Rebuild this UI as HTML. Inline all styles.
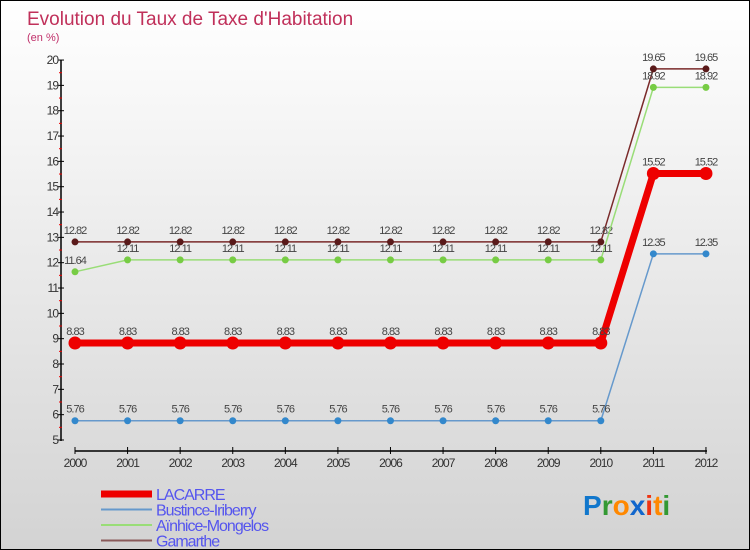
<!DOCTYPE html>
<html><head><meta charset="utf-8"><style>
body{margin:0}
#c{width:748px;height:548px;border:1px solid #000;background:linear-gradient(#ffffff,#d3d3d3);position:relative;font-family:"Liberation Sans",sans-serif;overflow:hidden}
</style></head><body>
<div id="c">
<svg id="s" width="748" height="548"></svg>
</div>
<script>
const years=[2000,2001,2002,2003,2004,2005,2006,2007,2008,2009,2010,2011,2012];
const lacarre=[8.83,8.83,8.83,8.83,8.83,8.83,8.83,8.83,8.83,8.83,8.83,15.52,15.52];
const bustince=[5.76,5.76,5.76,5.76,5.76,5.76,5.76,5.76,5.76,5.76,5.76,12.35,12.35];
const ainhice=[11.64,12.11,12.11,12.11,12.11,12.11,12.11,12.11,12.11,12.11,12.11,18.92,18.92];
const gamarthe=[12.82,12.82,12.82,12.82,12.82,12.82,12.82,12.82,12.82,12.82,12.82,19.65,19.65];
const yTicks=[5,6,7,8,9,10,11,12,13,14,15,16,17,18,19,20];
const seriesNames=["LACARRE","Bustince-Iriberry","Aïnhice-Mongelos","Gamarthe"];
const NS="http://www.w3.org/2000/svg",s=document.getElementById('s');
const X=i=>74+i*52.58, Y=v=>439-(v-5)*25.33;
function el(t,a,txt){const e=document.createElementNS(NS,t);for(const k in a)e.setAttribute(k,a[k]);if(txt!==undefined)e.textContent=txt;s.appendChild(e);return e;}
let e;
e=el('text',{x:26,y:24,'font-size':19,fill:'#c0305a'},'Evolution du Taux de Taxe d\'Habitation');

e=el('text',{x:26,y:40,'font-size':11,fill:'#c0306a'},'(en %)');

e=el('line',{x1:60,y1:59,x2:60,y2:440,stroke:'#000','stroke-width':1.5});

yTicks.forEach(v=>{el('line',{x1:57,y1:Y(v),x2:63,y2:Y(v),stroke:'#000'});
 e=el('text',{x:57,y:Y(v)+4,'font-size':12,fill:'#333','text-anchor':'end','letter-spacing':'-1'},v);
 
 if(v<20)el('line',{x1:58,y1:Y(v+0.5),x2:61,y2:Y(v+0.5),stroke:'#e00'});});
e=el('line',{x1:74,y1:450,x2:706,y2:450,stroke:'#000','stroke-width':1.5});

years.forEach((y,i)=>{el('line',{x1:X(i),y1:446,x2:X(i),y2:453,stroke:'#000'});
 e=el('text',{x:X(i),y:466,'font-size':12,fill:'#333','text-anchor':'middle','letter-spacing':'-1'},y);
 });
const defs=[[gamarthe,'#7a2a2a','#5a1a1a',1.5,3.5,'gamarthe'],[ainhice,'#99dd77','#77cc44',1.5,3.5,'ainhice-mongelos'],[bustince,'#6699cc','#3388cc',1.5,3.5,'bustince-iriberry'],[lacarre,'#ee0000','#ee0000',7,6.5,'lacarre']];
const fmt=v=>String(v).replace('.','');
defs.forEach(([d,lc,pc,w,r,n])=>{
 e=el('polyline',{points:d.map((v,i)=>X(i)+','+Y(v)).join(' '),fill:'none',stroke:lc,'stroke-width':w});
 
 d.forEach((v,i)=>{e=el('circle',{cx:X(i),cy:Y(v),r:r,fill:pc});
  
  e=el('text',{x:X(i),y:Y(v)-8,'font-size':11,fill:'#444','text-anchor':'middle','letter-spacing':'-1'},v.toFixed(2).replace(/0$/,''));
  });
});
const lc=[['#ee0000',7],['#6699cc',2],['#99dd77',2],['#8a5a5a',2]];
seriesNames.forEach((nm,i)=>{const y=493+i*15.5;
 e=el('line',{x1:100,y1:y,x2:151,y2:y,stroke:lc[i][0],'stroke-width':lc[i][1]});
 
 e=el('text',{x:155,y:y+6,'font-size':16,fill:'#5555ee','letter-spacing':'-1'},nm);
 });
e=el('text',{x:582,y:514,'font-size':28,'font-weight':'bold'});

[['P','#1177cc'],['r','#339933'],['o','#ff8800'],['x','#1166cc'],['i','#ee3311'],['t','#ff8800'],['i','#339933']].forEach(([c,f])=>{const t=document.createElementNS(NS,'tspan');t.setAttribute('fill',f);t.textContent=c;e.appendChild(t);});
</script>
</body></html>
